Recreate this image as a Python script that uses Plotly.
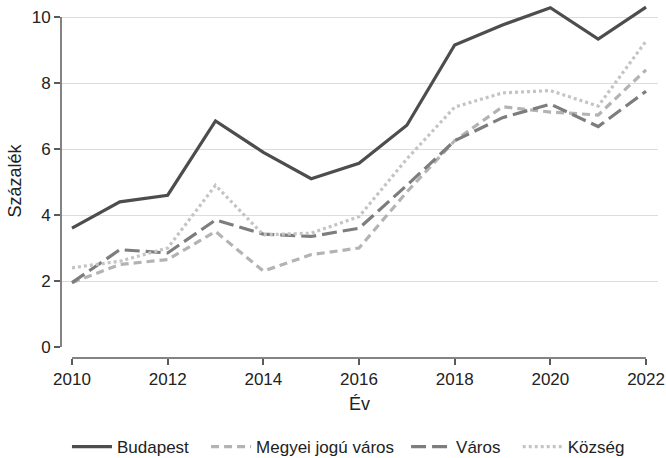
import plotly.graph_objects as go

years = list(range(2010, 2023))
budapest = [3.6, 4.4, 4.6, 6.85, 5.9, 5.1, 5.57, 6.72, 9.15, 9.76, 10.28, 9.33, 10.3]
megyei = [1.95, 2.5, 2.65, 3.5, 2.3, 2.8, 3.0, 4.7, 6.25, 7.28, 7.12, 7.03, 8.4]
varos = [1.95, 2.95, 2.85, 3.85, 3.42, 3.35, 3.6, 4.9, 6.25, 6.95, 7.36, 6.68, 7.75]
kozseg = [2.4, 2.6, 3.0, 4.9, 3.4, 3.45, 3.95, 5.7, 7.27, 7.7, 7.77, 7.3, 9.27]

names = ["Budapest", "Megyei jogú város", "Város", "Község"]
colors = ["#4d4d4d", "#b3b3b3", "#7d7d7d", "#c4c4c4"]
dashes = ["solid", "8px,5px", "15px,6px", "3px,3px"]
series = [budapest, megyei, varos, kozseg]
legend_ids = ["legend", "legend2", "legend3", "legend4"]
legend_x = [0.01, 0.243, 0.578, 0.765]

y_ticks = [0, 2, 4, 6, 8, 10]
x_ticks = [2010, 2012, 2014, 2016, 2018, 2020, 2022]

FONT = "Liberation Sans, Arial, sans-serif"

fig = go.Figure()
for name, vals, col, dsh, lid in zip(names, series, colors, dashes, legend_ids):
    fig.add_trace(go.Scatter(x=years, y=vals, name=name, mode="lines", legend=lid,
                             line=dict(color=col, width=3.2, dash=dsh)))

# axis lines spanning only the data range (Stata style)
fig.add_shape(type="line", xref="paper", yref="y", x0=0, x1=0, y0=y_ticks[0], y1=y_ticks[-1],
              line=dict(color="#5a5a5a", width=1.5))
fig.add_shape(type="line", xref="x", yref="paper", x0=x_ticks[0], x1=x_ticks[-1], y0=0, y1=0,
              line=dict(color="#5a5a5a", width=1.5))

leg_common = dict(orientation="h", xanchor="left", yref="container", y=0.024, yanchor="middle",
                  font=dict(size=17, color="#222"), itemwidth=40, bgcolor="rgba(0,0,0,0)")
legends = {}
for lid, lx in zip(legend_ids, legend_x):
    legends[lid] = dict(leg_common, x=lx)

fig.update_layout(
    width=666, height=458,
    margin=dict(l=61, r=8, t=4, b=100),
    paper_bgcolor="white", plot_bgcolor="white",
    font=dict(family=FONT, size=17, color="#222"),
    showlegend=True,
    **legends,
    xaxis=dict(range=[2009.77, 2022.25], tickvals=x_ticks, showgrid=False, zeroline=False,
               showline=False, ticks="outside", ticklen=6, tickwidth=1.5, tickcolor="#5a5a5a",
               automargin=False,
               tickfont=dict(size=17), title=dict(text="Év", font=dict(size=18), standoff=8)),
    yaxis=dict(range=[-0.333, 10.394], tickvals=y_ticks, showgrid=True, gridcolor="#dcdcdc",
               gridwidth=1, zeroline=True, zerolinecolor="rgba(0,0,0,0)", showline=False,
               ticks="outside", ticklen=6, tickwidth=1.5, tickcolor="#5a5a5a",
               automargin=False,
               tickfont=dict(size=17), title=dict(text="Százalék", font=dict(size=18), standoff=5)),
)

fig.write_html("out.html", post_script="document.body.style.margin='0';",
               config={"displayModeBar": False})
